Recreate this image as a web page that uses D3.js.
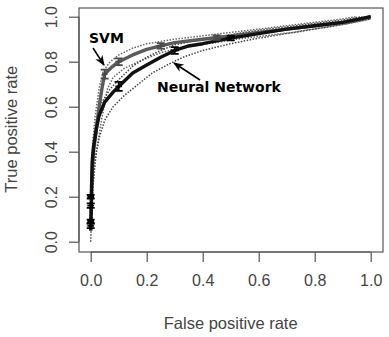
<!DOCTYPE html>
<html><head><meta charset="utf-8">
<script src="https://cdn.jsdelivr.net/npm/d3@7"></script>
<style>body{margin:0;background:#fff}svg{display:block}</style>
</head><body>
<script>
const xTicks = [0, 0.2, 0.4, 0.6, 0.8, 1.0];
const yTicks = [0, 0.2, 0.4, 0.6, 0.8, 1.0];
const xTitle = "False positive rate";
const yTitle = "True positive rate";

const svmMean = [[0,0.05],[0.003,0.25],[0.01,0.4],[0.02,0.5],[0.03,0.6],[0.04,0.68],[0.05,0.745],[0.07,0.77],[0.1,0.80],[0.15,0.83],[0.2,0.855],[0.25,0.87],[0.3,0.885],[0.4,0.9],[0.5,0.915],[0.6,0.93],[0.7,0.945],[0.8,0.96],[0.9,0.975],[0.97,0.99],[1,1]];
const svmUpper = [[0,0.1],[0.005,0.4],[0.015,0.55],[0.03,0.68],[0.045,0.76],[0.07,0.8],[0.1,0.83],[0.15,0.86],[0.2,0.88],[0.3,0.9],[0.4,0.915],[0.5,0.93],[0.6,0.945],[0.7,0.96],[0.8,0.975],[0.9,0.99],[0.95,1]];
const svmLower = [[0.005,0.2],[0.02,0.4],[0.04,0.55],[0.06,0.68],[0.08,0.73],[0.12,0.77],[0.17,0.8],[0.25,0.84],[0.33,0.865],[0.42,0.88],[0.52,0.9],[0.62,0.915],[0.72,0.93],[0.82,0.95],[0.92,0.97],[1,0.99]];
const nnMean = [[0,0.05],[0.003,0.2],[0.005,0.35],[0.01,0.42],[0.02,0.5],[0.03,0.56],[0.05,0.62],[0.08,0.665],[0.1,0.69],[0.15,0.75],[0.2,0.785],[0.25,0.82],[0.3,0.85],[0.35,0.87],[0.4,0.88],[0.5,0.905],[0.6,0.925],[0.7,0.945],[0.8,0.96],[0.9,0.975],[1,1]];
const nnUpper = [[0,0.1],[0.003,0.3],[0.01,0.46],[0.02,0.54],[0.04,0.62],[0.07,0.68],[0.1,0.72],[0.15,0.78],[0.2,0.82],[0.25,0.85],[0.3,0.875],[0.4,0.9],[0.5,0.92],[0.6,0.94],[0.7,0.955],[0.8,0.97],[0.9,0.985],[0.97,1]];
const nnLower = [[0,0.0],[0.005,0.2],[0.015,0.36],[0.03,0.46],[0.05,0.54],[0.08,0.6],[0.12,0.65],[0.17,0.7],[0.22,0.75],[0.28,0.79],[0.33,0.82],[0.4,0.85],[0.5,0.88],[0.6,0.905],[0.7,0.925],[0.8,0.945],[0.9,0.965],[1,0.99]];
// error bars: [fpr, tpr, dx, dy]
const svmBars = [[0.05,0.745,0.01,0.02],[0.1,0.80,0.012,0.015],[0.25,0.87,0.015,0.012],[0.45,0.907,0.015,0.01]];
const nnBars = [[0,0.07,0.012,0.01],[0,0.09,0.012,0.008],[0,0.16,0.012,0.01],[0,0.2,0.012,0.008],[0.1,0.69,0.012,0.02],[0.3,0.85,0.015,0.015],[0.5,0.905,0.015,0.01]];

const W = 389, H = 337;
const svg = d3.select("body").append("svg").attr("width", W).attr("height", H);
const x = d3.scaleLinear().domain([0, 1]).range([90.7, 370.7]);
const y = d3.scaleLinear().domain([0, 1]).range([241.7, 16.7]);
const box = {l: 79, r: 383, t: 8, b: 252};
const axisCol = "#555", textCol = "#444";
const font = "'Liberation Sans', Arial, sans-serif";

svg.append("rect").attr("x", box.l).attr("y", box.t).attr("width", box.r - box.l).attr("height", box.b - box.t)
  .attr("fill", "none").attr("stroke", axisCol).attr("stroke-width", 1.2);

const xa = svg.append("g").attr("transform", `translate(0,${box.b})`)
  .call(d3.axisBottom(x).tickValues(xTicks).tickFormat(d3.format(".1f")).tickSize(10).tickPadding(13));
xa.select(".domain").attr("d", `M${x(0)},0H${x(1)}`).attr("stroke", axisCol).attr("stroke-width", 1.2);
xa.selectAll(".tick line").attr("stroke", axisCol).attr("stroke-width", 1.2);
xa.selectAll(".tick text").attr("fill", textCol).style("font-family", font).style("font-size", "16px");

const ya = svg.append("g").attr("transform", `translate(${box.l},0)`)
  .call(d3.axisLeft(y).tickValues(yTicks).tickFormat(d3.format(".1f")).tickSize(10).tickPadding(0));
ya.select(".domain").attr("d", `M0,${y(0)}V${y(1)}`).attr("stroke", axisCol).attr("stroke-width", 1.2);
ya.selectAll(".tick line").attr("stroke", axisCol).attr("stroke-width", 1.2);
ya.selectAll(".tick text").attr("fill", textCol).style("font-family", font).style("font-size", "16px")
  .attr("x", null).attr("dy", null).attr("text-anchor", "middle")
  .attr("transform", "translate(-28,0) rotate(-90)").attr("dominant-baseline", "central");

svg.append("text").attr("x", (x(0) + x(1)) / 2 + 0).attr("y", 329).attr("text-anchor", "middle")
  .attr("fill", textCol).style("font-family", font).style("font-size", "16.5px").text(xTitle);
svg.append("text").attr("transform", `translate(17,${(y(0) + y(1)) / 2 + 0}) rotate(-90)`).attr("text-anchor", "middle")
  .attr("fill", textCol).style("font-family", font).style("font-size", "16.5px").text(yTitle);

const line = d3.line().x(d => x(d[0])).y(d => y(d[1]));
const g = svg.append("g");
function band(data, col) {
  g.append("path").attr("d", line(data)).attr("fill", "none").attr("stroke", col)
    .attr("stroke-width", 1.5).attr("stroke-dasharray", "1.5,1.5");
}
band(svmUpper, "#666"); band(svmLower, "#666");
band(nnUpper, "#444"); band(nnLower, "#444");
g.append("path").attr("d", line(svmMean)).attr("fill", "none").attr("stroke", "#5a5a5a").attr("stroke-width", 3.4).attr("stroke-linejoin", "round");
g.append("path").attr("d", line(nnMean)).attr("fill", "none").attr("stroke", "#111").attr("stroke-width", 3.4).attr("stroke-linejoin", "round");

function bars(data, col) {
  data.forEach(d => {
    const cx = x(d[0]), cy = y(d[1]);
    const y0 = y(d[1] - d[3]), y1 = y(d[1] + d[3]);
    const x0 = x(d[0] - d[2]), x1 = x(d[0] + d[2]);
    g.append("path").attr("d", `M${cx},${y0}V${y1}M${cx-4},${y0}H${cx+4}M${cx-4},${y1}H${cx+4}M${x0},${cy}H${x1}`)
      .attr("stroke", col).attr("stroke-width", 1.8).attr("fill", "none");
  });
}
bars(svmBars, "#4a4a4a");
bars(nnBars, "#000");

// annotations
svg.append("defs").append("marker").attr("id", "ah").attr("viewBox", "0 0 10 10").attr("refX", 9).attr("refY", 5)
  .attr("markerWidth", 7).attr("markerHeight", 7).attr("orient", "auto")
  .append("path").attr("d", "M0,1L10,5L0,9L3,5Z").attr("fill", "#000");
const lab = "'DejaVu Sans', Verdana, sans-serif";
svg.append("text").attr("x", 89).attr("y", 43).style("font-family", lab).style("font-weight", "bold").style("font-size", "14px").attr("fill", "#000").text("SVM");
svg.append("line").attr("x1", 93).attr("y1", 48).attr("x2", 104).attr("y2", 65).attr("stroke", "#000").attr("stroke-width", 1.5).attr("marker-end", "url(#ah)");
svg.append("text").attr("x", 157).attr("y", 92).style("font-family", lab).style("font-weight", "bold").style("font-size", "14px").attr("fill", "#000").text("Neural Network");
svg.append("line").attr("x1", 200).attr("y1", 80).attr("x2", 174).attr("y2", 63).attr("stroke", "#000").attr("stroke-width", 1.5).attr("marker-end", "url(#ah)");
</script>
</body></html>
